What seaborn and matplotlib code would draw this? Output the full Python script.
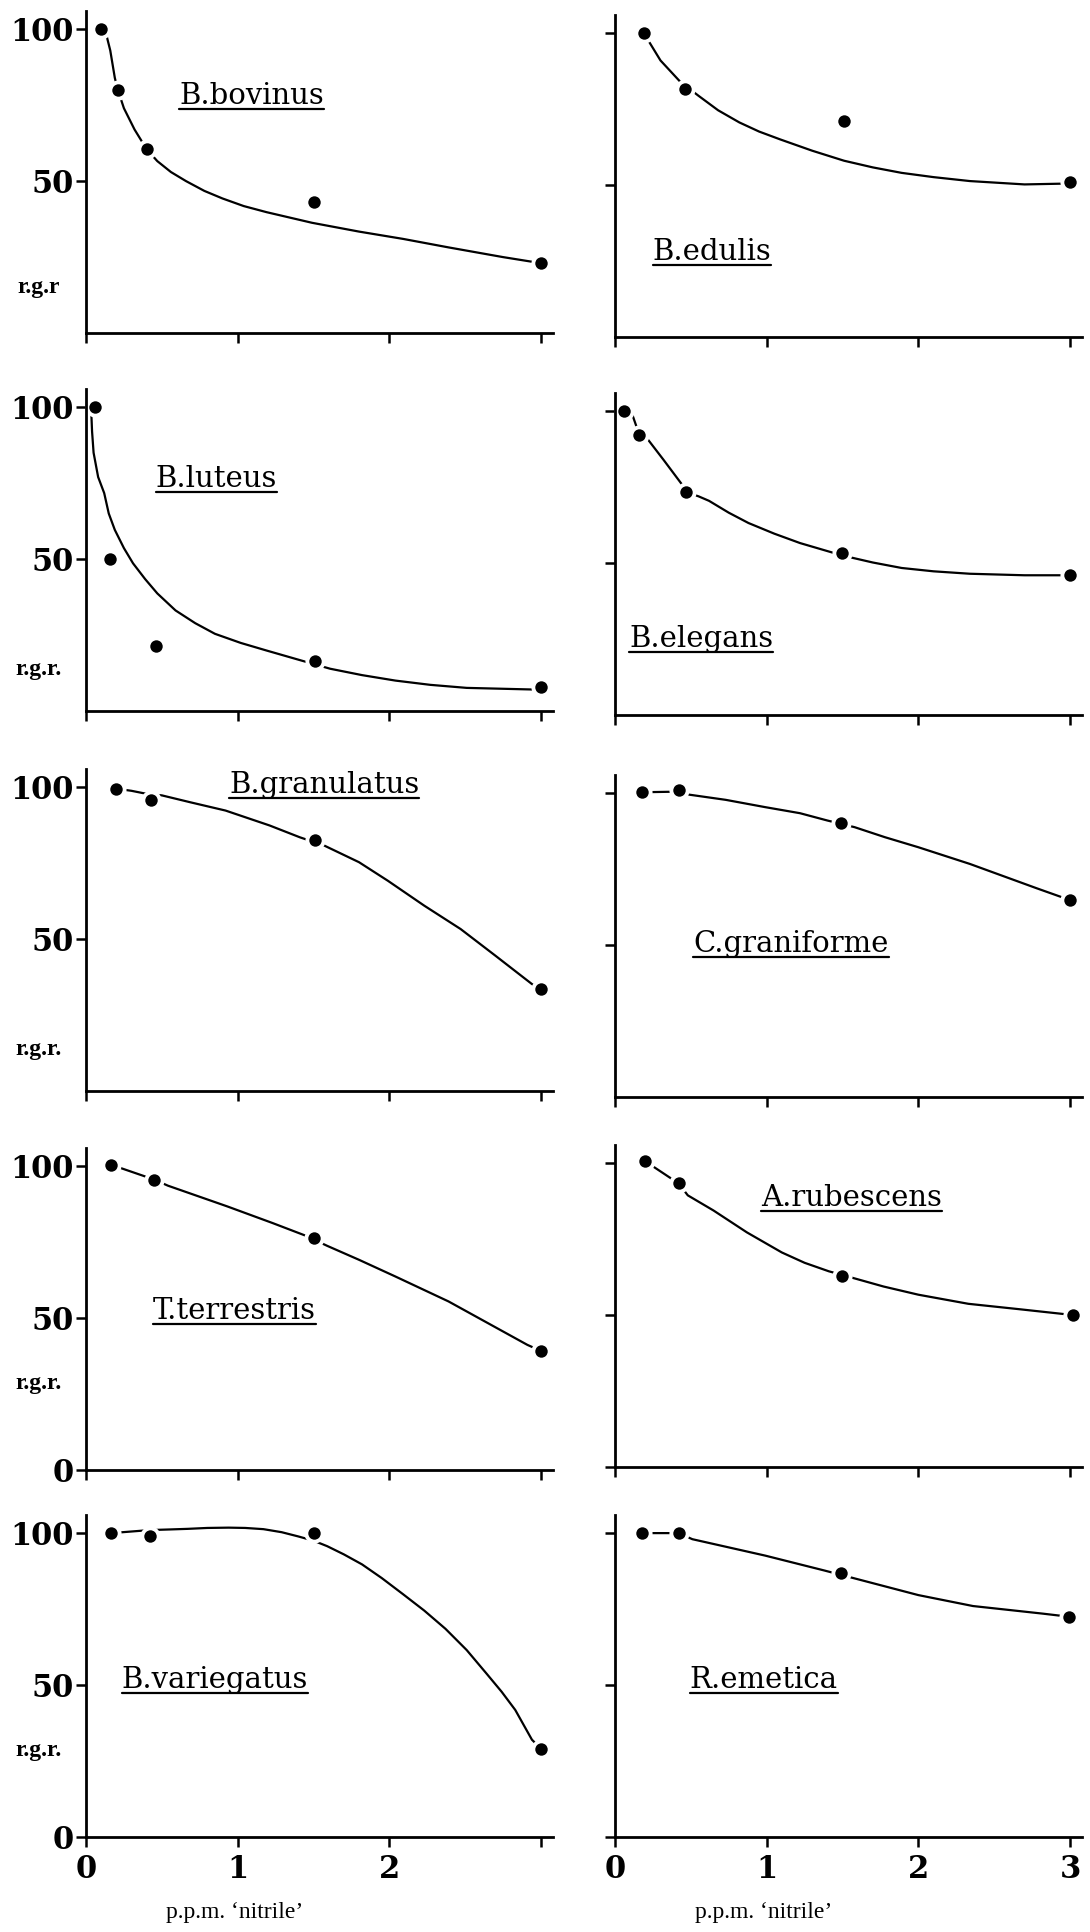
import matplotlib
matplotlib.use("Agg")
import matplotlib.pyplot as plt
import seaborn as sns
import pandas as pd
from matplotlib.lines import Line2D

# ---------------- data ----------------
# measured points: dose (p.p.m. 'nitrile') and relative growth rate
BOVINUS_X = [0.10, 0.21, 0.40, 1.50, 3.00]
BOVINUS_Y = [100, 80, 60.5, 43, 23]
BOVINUS_CX = [0.13, 0.16, 0.19, 0.21, 0.25, 0.32, 0.40, 0.47, 0.56, 0.66, 0.78, 0.90, 1.04, 1.19, 1.49, 1.80, 2.09, 2.39, 2.75, 3.00]
BOVINUS_CY = [99, 93, 84, 80, 74, 67, 60.5, 56.6, 53, 50, 46.8, 44.3, 41.8, 39.8, 36.3, 33.4, 31, 28.2, 25, 23]

EDULIS_X = [0.19, 0.46, 1.51, 3.00]
EDULIS_Y = [100, 81.5, 71, 51]
EDULIS_CX = [0.19, 0.30, 0.43, 0.55, 0.68, 0.82, 0.95, 1.09, 1.30, 1.51, 1.70, 1.89, 2.10, 2.34, 2.70, 3.00]
EDULIS_CY = [100, 91, 84, 79.4, 74.6, 70.6, 67.6, 65, 61.3, 58, 55.8, 54, 52.6, 51.3, 50.2, 50.5]

LUTEUS_X = [0.06, 0.16, 0.46, 1.51, 3.00]
LUTEUS_Y = [100, 50, 21.3, 16.3, 8]
LUTEUS_CX = [0.035, 0.04, 0.05, 0.08, 0.12, 0.15, 0.19, 0.25, 0.31, 0.39, 0.47, 0.59, 0.72, 0.85, 1.02, 1.19, 1.42, 1.61, 1.82, 2.04, 2.27, 2.51, 3.00]
LUTEUS_CY = [98, 92, 85, 77, 71.7, 65, 59.6, 53.6, 48.6, 43.4, 38.7, 33.1, 28.9, 25.4, 22.4, 19.9, 16.6, 13.9, 11.8, 10, 8.6, 7.6, 7]

ELEGANS_X = [0.06, 0.16, 0.47, 1.50, 3.00]
ELEGANS_Y = [100, 92.3, 73.3, 53.3, 46]
ELEGANS_CX = [0.06, 0.11, 0.16, 0.22, 0.32, 0.44, 0.47, 0.55, 0.62, 0.75, 0.88, 1.05, 1.22, 1.50, 1.70, 1.89, 2.10, 2.34, 2.70, 3.00]
ELEGANS_CY = [100, 99.5, 92.3, 90.5, 84, 76, 73.3, 72, 70.5, 66.6, 63.2, 59.7, 56.6, 52.5, 50.2, 48.4, 47.3, 46.5, 46, 46]

GRANULATUS_X = [0.20, 0.43, 1.51, 3.00]
GRANULATUS_Y = [99.5, 95.8, 82.7, 33.5]
GRANULATUS_CX = [0.20, 0.30, 0.40, 0.50, 0.69, 0.92, 1.21, 1.41, 1.57, 1.80, 1.99, 2.23, 2.47, 2.70, 2.94, 3.00]
GRANULATUS_CY = [99.5, 98.8, 97.8, 97.3, 95, 92.3, 87.4, 83.5, 80.8, 75.3, 69.2, 61, 53.3, 44.5, 35.2, 33.5]

GRANIFORME_X = [0.18, 0.42, 1.49, 3.00]
GRANIFORME_Y = [100.3, 101, 90.1, 64.8]
GRANIFORME_CX = [0.18, 0.42, 0.49, 0.73, 0.99, 1.22, 1.40, 1.58, 1.78, 2.00, 2.34, 2.56, 2.78, 3.00]
GRANIFORME_CY = [100.3, 100.5, 99.5, 97.8, 95.4, 93.4, 91, 88.8, 85.5, 82.2, 76.7, 72.7, 68.7, 64.8]

TERRESTRIS_X = [0.165, 0.45, 1.50, 3.00]
TERRESTRIS_Y = [100.5, 95.6, 76.4, 39.2]
TERRESTRIS_CX = [0.165, 0.45, 0.54, 0.93, 1.23, 1.45, 1.59, 1.80, 2.04, 2.39, 2.63, 2.91, 3.00]
TERRESTRIS_CY = [100.5, 95.6, 93.6, 86.8, 81.3, 77.1, 73.8, 69.2, 63.7, 55.5, 48.9, 41.2, 39.2]

RUBESCENS_X = [0.20, 0.42, 1.50, 3.02]
RUBESCENS_Y = [100.6, 93.3, 63, 50]
RUBESCENS_CX = [0.20, 0.42, 0.48, 0.65, 0.87, 1.10, 1.25, 1.41, 1.57, 1.77, 2.00, 2.33, 2.67, 3.02]
RUBESCENS_CY = [100.6, 93.3, 89.4, 84.4, 77.2, 70.6, 67.2, 64.4, 62.2, 59.4, 56.7, 53.7, 51.9, 50]

VARIEGATUS_X = [0.165, 0.42, 1.50, 3.00]
VARIEGATUS_Y = [100, 98.9, 100.2, 29]
VARIEGATUS_CX = [0.165, 0.42, 0.55, 0.67, 0.80, 0.94, 1.05, 1.17, 1.29, 1.40, 1.50, 1.59, 1.70, 1.82, 1.95, 2.09, 2.23, 2.37, 2.51, 2.64, 2.74, 2.83, 2.94, 3.00]
VARIEGATUS_CY = [100, 101, 101.2, 101.4, 101.7, 101.8, 101.7, 101.3, 100.3, 98.9, 97.5, 95.7, 93.0, 89.7, 85.2, 79.9, 74.5, 68.5, 61.5, 53.8, 47.8, 41.8, 32, 29]

EMETICA_X = [0.18, 0.42, 1.49, 2.99]
EMETICA_Y = [100, 100, 87, 72.5]
EMETICA_CX = [0.18, 0.42, 0.51, 0.99, 1.38, 1.61, 2.00, 2.36, 2.82, 2.99]
EMETICA_CY = [100, 100, 98, 92.6, 87.7, 84.7, 79.6, 76, 73.5, 72.5]

SPECIES = ["B.bovinus", "B.edulis", "B.luteus", "B.elegans", "B.granulatus",
           "C.graniforme", "T.terrestris", "A.rubescens", "B.variegatus", "R.emetica"]
X_TICKS = [0, 1, 2, 3]
Y_TICKS_TOP = [50, 100]
Y_TICKS_BOTTOM = [0, 50, 100]
Y_LABELS = ["r.g.r", "r.g.r.", "r.g.r.", "r.g.r.", "r.g.r."]
X_LABEL = "p.p.m. \u2018nitrile\u2019"

POINTS = [(BOVINUS_X, BOVINUS_Y, BOVINUS_CX, BOVINUS_CY),
          (EDULIS_X, EDULIS_Y, EDULIS_CX, EDULIS_CY),
          (LUTEUS_X, LUTEUS_Y, LUTEUS_CX, LUTEUS_CY),
          (ELEGANS_X, ELEGANS_Y, ELEGANS_CX, ELEGANS_CY),
          (GRANULATUS_X, GRANULATUS_Y, GRANULATUS_CX, GRANULATUS_CY),
          (GRANIFORME_X, GRANIFORME_Y, GRANIFORME_CX, GRANIFORME_CY),
          (TERRESTRIS_X, TERRESTRIS_Y, TERRESTRIS_CX, TERRESTRIS_CY),
          (RUBESCENS_X, RUBESCENS_Y, RUBESCENS_CX, RUBESCENS_CY),
          (VARIEGATUS_X, VARIEGATUS_Y, VARIEGATUS_CX, VARIEGATUS_CY),
          (EMETICA_X, EMETICA_Y, EMETICA_CX, EMETICA_CY)]

# ---------------- layout / style ----------------
LABEL_POS = [(1.09, 78), (0.64, 28), (0.86, 76.5), (0.57, 25), (1.57, 100.6),
             (1.16, 50.3), (0.98, 52.3), (1.56, 88.6), (0.85, 51.6), (0.98, 51.6)]
RGR_POS = [(-0.31, 15), (-0.31, 13.5), (-0.31, 13.5), (-0.31, 28.5), (-0.31, 28.5)]
LEFTS = [0.0789, 0.5642]
BOTTOMS = [[0.8276, 0.6320, 0.4353, 0.2391, 0.0492],
           [0.8256, 0.6299, 0.4322, 0.2407, 0.0492]]
W, H = 0.4286, 0.1667

sns.set_style("ticks")
plt.rcParams["font.family"] = ["DejaVu Serif", "DejaVu Sans"]
for k in ["text.color", "axes.edgecolor", "axes.labelcolor", "xtick.color", "ytick.color"]:
    plt.rcParams[k] = "black"

fig = plt.figure(figsize=(10.9, 19.32), dpi=100)
fig.patch.set_facecolor("white")

species_texts = []
for i, (name, (px, py, cx, cy)) in enumerate(zip(SPECIES, POINTS)):
    row, col = divmod(i, 2)
    ax = fig.add_axes([LEFTS[col], BOTTOMS[col][row], W, H])
    ax.set_facecolor("white")

    curve = pd.DataFrame({"dose": cx, "rgr": cy})
    pts = pd.DataFrame({"dose": px, "rgr": py})
    sns.lineplot(data=curve, x="dose", y="rgr", ax=ax, sort=False, estimator=None,
                 color="black", linewidth=1.6, zorder=2)
    sns.scatterplot(data=pts, x="dose", y="rgr", ax=ax, s=210, color="white",
                    linewidth=0, zorder=3, clip_on=False)
    sns.scatterplot(data=pts, x="dose", y="rgr", ax=ax, s=80, color="black",
                    linewidth=0, zorder=4, clip_on=False)

    ax.set_xlim(0, 3.08)
    ax.set_ylim(0, 106)
    ax.set_xlabel("")
    ax.set_ylabel("")
    for s in ["top", "right"]:
        ax.spines[s].set_visible(False)
    for s in ["left", "bottom"]:
        ax.spines[s].set_linewidth(2.0)
        ax.spines[s].set_color("black")
        ax.spines[s].set_zorder(5)

    ax.tick_params(axis="both", direction="out", length=7, width=1.8,
                   color="black", labelcolor="black")
    ax.set_xticks(X_TICKS)
    if row == 4:
        labs = [str(t) for t in X_TICKS]
        if col == 0:
            labs[-1] = ""
        ax.set_xticklabels(labs, fontsize=22, fontweight="bold")
        ax.tick_params(axis="x", pad=5)
        ax.text(0.98, -25, X_LABEL, ha="center", va="center", fontsize=17,
                family=["Liberation Serif", "DejaVu Serif"], clip_on=False)
    else:
        ax.set_xticklabels([])

    yt = Y_TICKS_BOTTOM if row >= 3 else Y_TICKS_TOP
    ax.set_yticks(yt)
    if col == 0:
        ax.set_yticklabels([str(t) for t in yt], fontsize=22, fontweight="bold")
        ax.tick_params(axis="y", pad=2)
        rx, ry = RGR_POS[row]
        ax.text(rx, ry, Y_LABELS[row], ha="center", va="center", fontsize=17,
                fontweight="bold", family=["Liberation Serif", "DejaVu Serif"],
                clip_on=False)
    else:
        ax.set_yticklabels([])

    lx, ly = LABEL_POS[i]
    t = ax.text(lx, ly, name, ha="center", va="center", fontsize=21, color="black")
    species_texts.append(t)

# underline the species names
fig.canvas.draw()
renderer = fig.canvas.get_renderer()
inv = fig.transFigure.inverted()
for t in species_texts:
    bb = t.get_window_extent(renderer)
    (x0, y0) = inv.transform((bb.x0, bb.y0 + 1))
    (x1, _) = inv.transform((bb.x1, bb.y0 + 1))
    fig.add_artist(Line2D([x0, x1], [y0, y0], transform=fig.transFigure,
                          color="black", linewidth=1.6))

fig.savefig("out.png", dpi=100, facecolor="white")
